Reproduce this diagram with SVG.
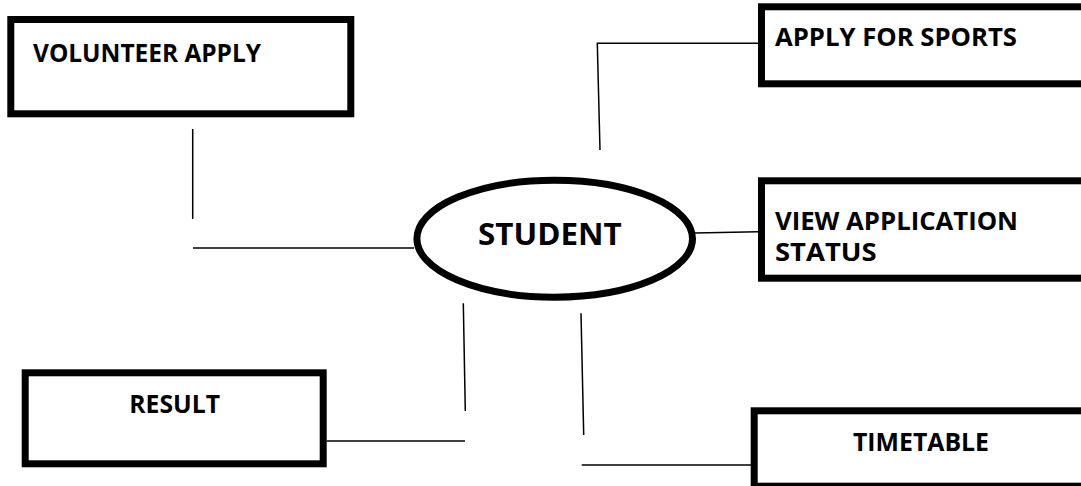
<svg xmlns="http://www.w3.org/2000/svg" width="1081" height="486" viewBox="0 0 1081 486">
<style>
.box{fill:#fff;stroke:#000;stroke-width:7}
.ell{fill:#fff;stroke:#000;stroke-width:7}
.lbl{font-family:"Open Sans","Liberation Sans",sans-serif;font-weight:700;font-size:25px;fill:#000}
.big{font-size:30px}
.conn line,.conn polyline{stroke:#000;stroke-width:1.5;fill:none}
</style>
<rect width="1081" height="486" fill="#fff"/>
<g class="conn" id="connectors">
<line x1="192.7" y1="129" x2="192.7" y2="219"/>
<line x1="193" y1="248" x2="414" y2="248"/>
<polyline points="600,150 597.3,43.3 758,43.3"/>
<line x1="695" y1="233" x2="758" y2="231.7"/>
<line x1="463.3" y1="303.3" x2="465.3" y2="411"/>
<line x1="326.7" y1="441" x2="465" y2="441"/>
<line x1="581" y1="313.3" x2="583.7" y2="435"/>
<line x1="581.7" y1="465" x2="751" y2="465"/>
</g>
<g id="volunteer-apply">
<rect class="box" x="10.8" y="19.5" width="340" height="94.3"/>
<text class="lbl" x="33" y="61.7" textLength="228" lengthAdjust="spacingAndGlyphs">VOLUNTEER APPLY</text>
</g>
<g id="apply-for-sports">
<rect class="box" x="761.5" y="6.8" width="330" height="77"/>
<text class="lbl" x="775" y="45.7" textLength="242" lengthAdjust="spacingAndGlyphs">APPLY FOR SPORTS</text>
</g>
<g id="student">
<ellipse class="ell" cx="554.7" cy="238.7" rx="137.8" ry="58.5"/>
<text class="lbl big" x="478" y="245" textLength="143.7" lengthAdjust="spacingAndGlyphs">STUDENT</text>
</g>
<g id="view-application-status">
<rect class="box" x="761.5" y="180.8" width="330" height="97.4"/>
<text class="lbl" x="775" y="230" textLength="243" lengthAdjust="spacingAndGlyphs">VIEW APPLICATION</text>
<text class="lbl" x="775" y="261" textLength="101.7" lengthAdjust="spacingAndGlyphs">STATUS</text>
</g>
<g id="result">
<rect class="box" x="25.2" y="372.8" width="298" height="91"/>
<text class="lbl" x="129.3" y="413.3" textLength="90.7" lengthAdjust="spacingAndGlyphs">RESULT</text>
</g>
<g id="timetable">
<rect class="box" x="754.2" y="410.8" width="340" height="75.4"/>
<text class="lbl" x="853" y="450.7" textLength="136" lengthAdjust="spacingAndGlyphs">TIMETABLE</text>
</g>
</svg>
